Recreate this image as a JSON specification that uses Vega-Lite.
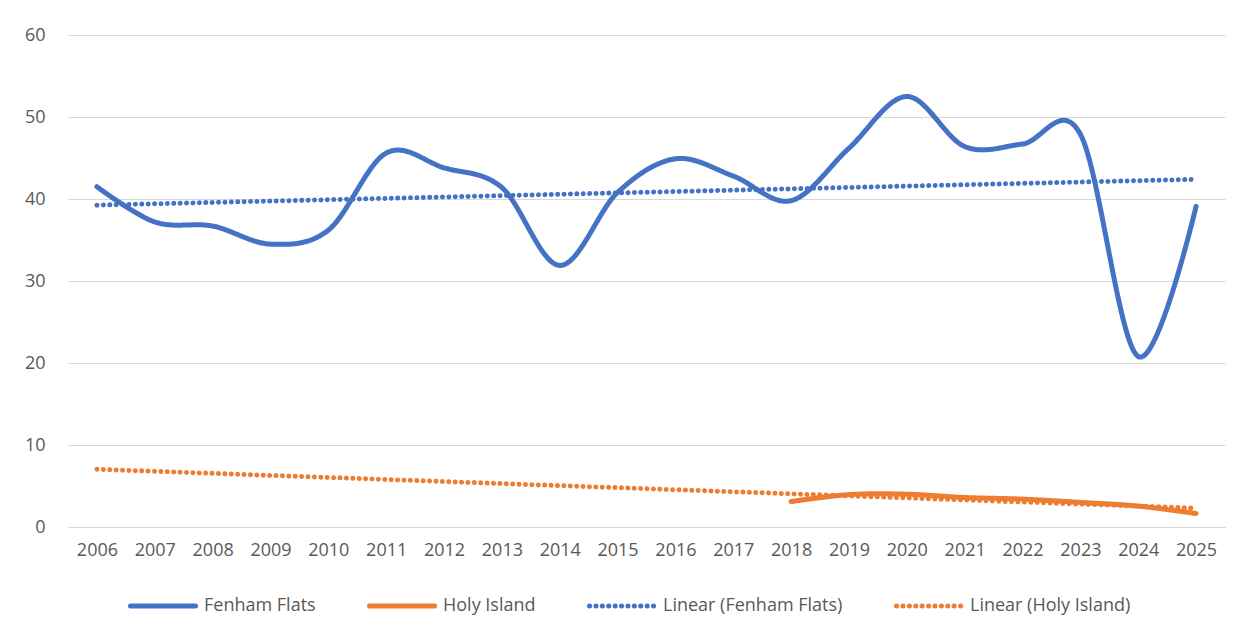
{
  "$schema": "https://vega.github.io/schema/vega-lite/v6.json",
  "width": 1157,
  "height": 492,
  "autosize": {"type": "none"},
  "padding": {"left": 68, "top": 35, "right": 23, "bottom": 111},
  "background": "white",
  "config": {
    "font": "Open Sans",
    "view": {"stroke": null},
    "axis": {"labelColor": "#595959", "labelFontSize": 18, "gridColor": "#D9D9D9", "gridWidth": 1, "ticks": false, "title": null},
    "legend": {"labelColor": "#595959", "labelFontSize": 18, "labelLimit": 0}
  },
  "data": {
    "values": [
      {"year": "2006", "value": 41.5, "series": "Fenham Flats"},
      {"year": "2007", "value": 37.2, "series": "Fenham Flats"},
      {"year": "2008", "value": 36.7, "series": "Fenham Flats"},
      {"year": "2009", "value": 34.5, "series": "Fenham Flats"},
      {"year": "2010", "value": 36.2, "series": "Fenham Flats"},
      {"year": "2011", "value": 45.6, "series": "Fenham Flats"},
      {"year": "2012", "value": 43.8, "series": "Fenham Flats"},
      {"year": "2013", "value": 41.4, "series": "Fenham Flats"},
      {"year": "2014", "value": 31.9, "series": "Fenham Flats"},
      {"year": "2015", "value": 40.8, "series": "Fenham Flats"},
      {"year": "2016", "value": 44.9, "series": "Fenham Flats"},
      {"year": "2017", "value": 42.8, "series": "Fenham Flats"},
      {"year": "2018", "value": 39.8, "series": "Fenham Flats"},
      {"year": "2019", "value": 46.2, "series": "Fenham Flats"},
      {"year": "2020", "value": 52.5, "series": "Fenham Flats"},
      {"year": "2021", "value": 46.4, "series": "Fenham Flats"},
      {"year": "2022", "value": 46.7, "series": "Fenham Flats"},
      {"year": "2023", "value": 47.9, "series": "Fenham Flats"},
      {"year": "2024", "value": 20.8, "series": "Fenham Flats"},
      {"year": "2025", "value": 39.1, "series": "Fenham Flats"},
      {"year": "2018", "value": 3.1, "series": "Holy Island"},
      {"year": "2019", "value": 3.95, "series": "Holy Island"},
      {"year": "2020", "value": 4.0, "series": "Holy Island"},
      {"year": "2021", "value": 3.6, "series": "Holy Island"},
      {"year": "2022", "value": 3.4, "series": "Holy Island"},
      {"year": "2023", "value": 3.0, "series": "Holy Island"},
      {"year": "2024", "value": 2.55, "series": "Holy Island"},
      {"year": "2025", "value": 1.65, "series": "Holy Island"},
      {"year": "2006", "value": 39.25, "series": "Linear (Fenham Flats)"},
      {"year": "2025", "value": 42.4, "series": "Linear (Fenham Flats)"},
      {"year": "2006", "value": 7.04, "series": "Linear (Holy Island)"},
      {"year": "2025", "value": 2.3, "series": "Linear (Holy Island)"}
    ]
  },
  "mark": {"type": "line", "interpolate": "cardinal", "strokeCap": "round", "strokeJoin": "round"},
  "encoding": {
    "x": {
      "field": "year", "type": "ordinal",
      "scale": {"type": "point", "padding": 0.5},
      "axis": {"labelAngle": 0, "labelPadding": 14, "grid": false, "domain": true, "domainColor": "#D9D9D9", "domainWidth": 1}
    },
    "y": {
      "field": "value", "type": "quantitative",
      "scale": {"domain": [0, 60], "nice": false, "zero": true},
      "axis": {"values": [0, 10, 20, 30, 40, 50, 60], "domain": false, "labelPadding": 23}
    },
    "color": {
      "field": "series", "type": "nominal",
      "scale": {
        "domain": ["Fenham Flats", "Holy Island", "Linear (Fenham Flats)", "Linear (Holy Island)"],
        "range": ["#4472C4", "#ED7D31", "#4472C4", "#ED7D31"]
      },
      "legend": {
        "title": null, "orient": "none", "legendX": 60, "legendY": 536,
        "direction": "horizontal", "columns": 4, "columnPadding": 43,
        "symbolType": "stroke", "symbolSize": 4225, "labelOffset": 6,
        "encode": {"symbols": {"update": {"strokeCap": {"value": "round"}}}}
      }
    },
    "strokeDash": {
      "field": "series", "type": "nominal",
      "scale": {
        "domain": ["Fenham Flats", "Holy Island", "Linear (Fenham Flats)", "Linear (Holy Island)"],
        "range": [[1, 0], [1, 0], [0.1, 6.3], [0.1, 6.3]]
      },
      "legend": null
    },
    "strokeWidth": {
      "field": "series", "type": "nominal",
      "scale": {
        "domain": ["Fenham Flats", "Holy Island", "Linear (Fenham Flats)", "Linear (Holy Island)"],
        "range": [5, 5, 3, 3]
      },
      "legend": null
    }
  }
}
